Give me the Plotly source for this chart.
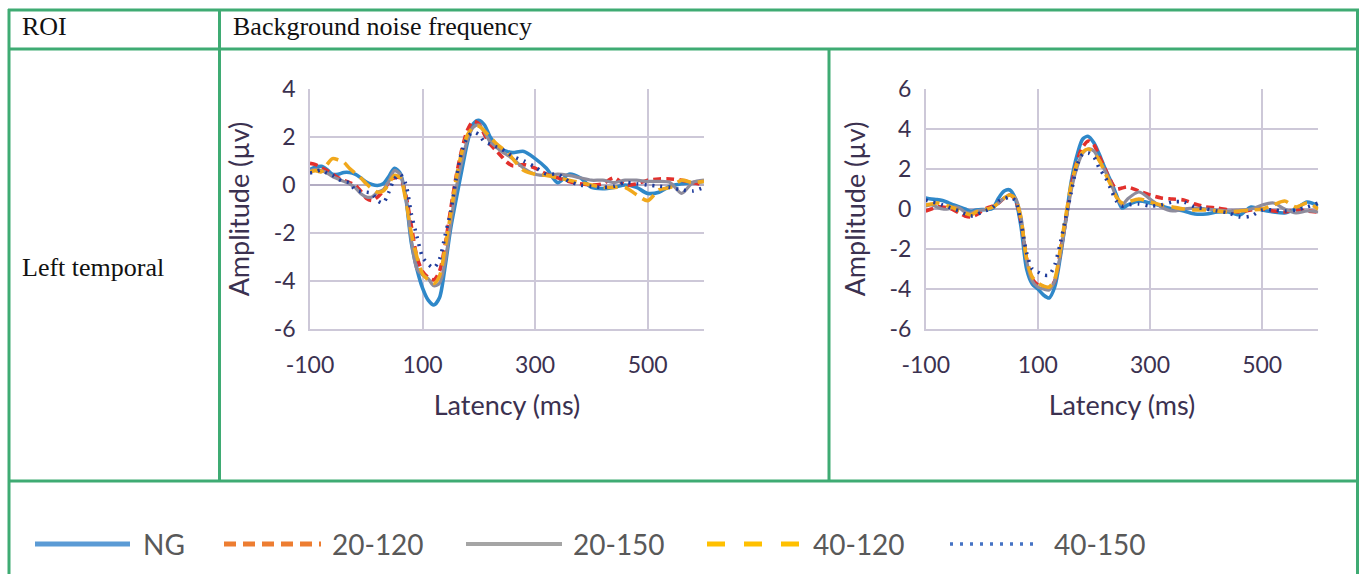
import plotly.graph_objects as go

W, H = 1360, 574

# ---------------- data ----------------
latency = list(range(-100, 261, 10)) + list(range(280, 601, 20))

series_names = ["NG", "20-120", "20-150", "40-120", "40-150"]

left_ng = [0.65, 0.75, 0.78, 0.65, 0.45, 0.45, 0.52, 0.52, 0.45, 0.3,
           0.12, 0.02, -0.02, 0.05, 0.35, 0.7, 0.5, -0.5, -2.4, -3.5,
           -4.3, -4.8, -5.0, -4.7, -3.4, -1.8, -0.55, 0.65, 1.8, 2.55,
           2.7, 2.5, 2.0, 1.7, 1.5, 1.4, 1.35,
           1.4, 1.1, 0.7, 0.1, 0.45, 0.3, -0.1, -0.15, -0.1, 0.0, -0.1, -0.35, -0.3, -0.05, 0.05, 0.1, 0.15]
left_20_120 = [0.9, 0.85, 0.72, 0.6, 0.45, 0.3, 0.2, 0.1, 0.0, -0.25,
               -0.55, -0.65, -0.5, -0.25, 0.1, 0.3, 0.3, -0.4, -1.7, -3.0,
               -3.6, -3.85, -3.95, -3.6, -2.5, -1.0, 0.4, 1.5, 2.3, 2.65,
               2.55, 2.1, 1.7, 1.45, 1.2, 0.95, 0.8,
               0.85, 0.7, 0.45, 0.3, 0.15, 0.05, 0.0, 0.05, 0.3, 0.0, 0.05, 0.2, 0.25, 0.25, 0.2, 0.1, 0.0]
left_20_150 = [0.6, 0.65, 0.6, 0.5, 0.35, 0.25, 0.15, 0.05, -0.1, -0.35,
               -0.5, -0.5, -0.3, -0.2, 0.15, 0.6, 0.45, -0.5, -2.3, -3.5,
               -3.75, -3.9, -4.2, -4.1, -3.2, -1.6, -0.1, 1.0, 1.9, 2.4,
               2.5, 2.2, 1.8, 1.6, 1.4, 1.25, 1.1,
               0.7, 0.45, 0.4, 0.45, 0.4, 0.3, 0.2, 0.2, 0.1, 0.2, 0.2, 0.15, 0.15, 0.1, -0.35, 0.1, 0.2]
left_40_120 = [0.55, 0.6, 0.55, 0.85, 1.1, 1.05, 0.95, 0.7, 0.5, 0.3,
               0.05, -0.15, -0.3, -0.25, 0.05, 0.4, 0.3, -0.6, -2.0, -3.0,
               -3.7, -3.95, -4.1, -3.8, -2.6, -1.2, 0.3, 1.4, 2.1, 2.4,
               2.45, 2.25, 2.0, 1.75, 1.55, 1.4, 1.1,
               0.6, 0.45, 0.4, 0.3, 0.2, 0.1, 0.0, -0.1, -0.1, -0.1, -0.4, -0.65, -0.2, -0.1, 0.2, 0.1, 0.15]
left_40_150 = [0.5, 0.55, 0.62, 0.5, 0.4, 0.25, 0.14, 0.1, -0.2, -0.28,
               -0.3, -0.35, -0.65, -0.75, -0.3, 0.25, 0.45, 0.05, -1.2, -2.15,
               -3.0, -3.3, -3.45, -3.1, -2.1, -1.1, 0.3, 1.4, 2.0, 2.2,
               2.1, 1.8, 1.7, 1.6, 1.5, 1.35, 1.2,
               1.0, 0.75, 0.45, 0.45, 0.15, 0.0, -0.05, -0.1, -0.05, 0.1, 0.05, 0.0, -0.05, -0.1, -0.2, -0.25, -0.1]

right_ng = [0.55, 0.5, 0.47, 0.42, 0.32, 0.2, 0.1, 0.0, -0.12, -0.05,
            -0.03, -0.03, 0.05, 0.55, 0.9, 0.95, 0.5, -0.9, -3.0, -3.75,
            -4.0, -4.3, -4.45, -3.9, -2.4, -0.5, 1.45, 2.7, 3.5, 3.63,
            3.3, 2.7, 2.0, 1.4, 0.7, 0.05, 0.2,
            0.4, 0.3, 0.15, 0.0, -0.1, -0.25, -0.25, -0.15, -0.15, -0.3, 0.1, -0.05, -0.15, -0.2, 0.0, 0.35, 0.15]
right_20_120 = [-0.1, 0.0, 0.1, 0.1, 0.05, -0.05, -0.2, -0.35, -0.4, -0.3,
                -0.1, 0.05, 0.15, 0.3, 0.55, 0.7, 0.45, -0.6, -2.5, -3.5,
                -3.8, -3.95, -4.0, -3.6, -2.2, -0.5, 1.2, 2.4, 3.1, 3.4,
                3.2, 2.6, 2.0, 1.4, 1.0, 1.05, 1.1,
                0.9, 0.7, 0.55, 0.5, 0.45, 0.25, 0.1, 0.05, -0.05, -0.15, -0.05, 0.0, -0.1, -0.15, -0.05, -0.1, -0.15]
right_20_150 = [0.15, 0.2, 0.1, 0.0, 0.0, 0.1, 0.05, -0.15, -0.2, -0.1,
                -0.05, 0.0, 0.1, 0.3, 0.55, 0.7, 0.55, -0.4, -2.6, -3.6,
                -3.9, -4.0, -4.05, -3.6, -2.3, -0.6, 1.0, 2.1, 2.8, 3.0,
                2.9, 2.4, 1.9, 1.3, 0.6, 0.2, 0.5,
                0.85, 0.5, 0.1, -0.1, 0.0, 0.05, 0.0, -0.05, -0.1, -0.05, 0.0, 0.2, 0.3, 0.0, -0.2, -0.1, -0.15]
right_40_120 = [0.2, 0.25, 0.3, 0.25, 0.15, 0.05, -0.1, -0.2, -0.3, -0.15,
                -0.05, 0.0, 0.1, 0.3, 0.55, 0.7, 0.5, -0.5, -2.5, -3.4,
                -3.7, -3.85, -3.9, -3.5, -2.0, -0.3, 1.3, 2.3, 2.85, 3.0,
                2.8, 2.4, 1.8, 1.2, 0.6, 0.3, 0.35,
                0.5, 0.35, 0.2, 0.1, 0.0, -0.05, -0.05, -0.1, -0.15, -0.1, -0.05, 0.0, 0.2, 0.4, 0.1, 0.3, 0.0]
right_40_150 = [0.45, 0.35, 0.3, 0.2, 0.1, 0.0, -0.1, -0.25, -0.35, -0.3,
                -0.15, -0.05, 0.1, 0.4, 0.5, 0.6, 0.4, -0.7, -2.2, -3.0,
                -3.15, -3.3, -3.3, -2.8, -1.7, -0.4, 0.9, 2.2, 2.75, 2.8,
                2.6, 2.0, 1.6, 1.0, 0.4, 0.15, 0.2,
                0.25, 0.15, 0.2, 0.35, 0.35, 0.1, 0.0, -0.1, -0.2, -0.4, -0.35, -0.05, -0.05, -0.1, -0.05, 0.1, 0.3]

x_ticks = [-100, 100, 300, 500]
x_tick_labels = ["-100", "100", "300", "500"]
left_y_ticks = [4, 2, 0, -2, -4, -6]
left_y_labels = ["4", "2", "0", "-2", "-4", "-6"]
right_y_ticks = [6, 4, 2, 0, -2, -4, -6]
right_y_labels = ["6", "4", "2", "0", "-2", "-4", "-6"]

header_roi = "ROI"
header_bg = "Background noise frequency"
row_label = "Left temporal"
x_title = "Latency (ms)"
y_title = "Amplitude (µv)"

# ---------------- styles ----------------
curve_styles = {
    "NG": dict(color="#2f88c9", width=3.6, dash="solid"),
    "20-120": dict(color="#e2302c", width=3.6, dash="8px,5px"),
    "20-150": dict(color="#8e8c9c", width=3.2, dash="solid"),
    "40-120": dict(color="#f1a81c", width=3.6, dash="14px,7px"),
    "40-150": dict(color="#1f3c9c", width=3.6, dash="2px,6px"),
}
legend_styles = {
    "NG": dict(color="#5b9bd5", width=5, dash="solid"),
    "20-120": dict(color="#ed7d31", width=5, dash="12px,7px"),
    "20-150": dict(color="#a5a5a5", width=4, dash="solid"),
    "40-120": dict(color="#ffc000", width=5, dash="18px,19px"),
    "40-150": dict(color="#4472c4", width=3.5, dash="3px,7px"),
}

GREEN = "#3fab73"
AXIS_TXT = "#3b3150"
GRID = "#cdc8d8"
FONT = "Lato"
SERIF = "Liberation Serif"


def px_x(p):
    return p / W


def px_y(p):
    return 1 - p / H


fig = go.Figure()

left_data = [left_ng, left_20_120, left_20_150, left_40_120, left_40_150]
right_data = [right_ng, right_20_120, right_20_150, right_40_120, right_40_150]

for name, ys in zip(series_names, left_data):
    fig.add_trace(go.Scatter(x=latency, y=ys, mode="lines", name=name,
                             line=dict(shape="spline", smoothing=0.8, **curve_styles[name]),
                             showlegend=False, xaxis="x", yaxis="y"))
for name, ys in zip(series_names, right_data):
    fig.add_trace(go.Scatter(x=latency, y=ys, mode="lines", name=name,
                             line=dict(shape="spline", smoothing=0.8, **curve_styles[name]),
                             showlegend=False, xaxis="x2", yaxis="y2"))


def xaxis_style(domain, anchor):
    return dict(domain=domain, anchor=anchor, range=[-100, 600],
                tickvals=x_ticks, ticktext=x_tick_labels, automargin=False,
                showgrid=True, gridcolor=GRID, gridwidth=1.5, zeroline=False,
                showline=True, linecolor=GRID, linewidth=1.5,
                tickfont=dict(family=FONT, size=23, color=AXIS_TXT),
                ticklabelstandoff=15,
                title=dict(text=x_title, font=dict(family=FONT, size=27, color=AXIS_TXT), standoff=19),
                fixedrange=True)


def yaxis_style(domain, anchor, rng, ticks, labels):
    return dict(domain=domain, anchor=anchor, range=rng,
                tickvals=ticks, ticktext=labels, automargin=False,
                showgrid=True, gridcolor=GRID, gridwidth=1.5,
                zeroline=True, zerolinecolor="#b3adc3", zerolinewidth=1.5,
                showline=True, linecolor=GRID, linewidth=1.5,
                tickfont=dict(family=FONT, size=23, color=AXIS_TXT),
                ticklabelstandoff=8,
                title=dict(text=y_title, font=dict(family=FONT, size=27, color=AXIS_TXT), standoff=16),
                fixedrange=True)


ydom = [px_y(329), px_y(89)]
fig.update_layout(
    width=W, height=H, margin=dict(l=0, r=0, t=0, b=0, autoexpand=False),
    paper_bgcolor="white", plot_bgcolor="white", showlegend=False,
    xaxis=xaxis_style([px_x(310), px_x(704)], "y"),
    yaxis=yaxis_style(ydom, "x", [-6, 4], left_y_ticks, left_y_labels),
    xaxis2=xaxis_style([px_x(925.7), px_x(1318.3)], "y2"),
    yaxis2=yaxis_style(ydom, "x2", [-6, 6], right_y_ticks, right_y_labels),
)

# ---------------- table frame ----------------
shapes = []


def hline(y, x0, x1):
    shapes.append(dict(type="line", xref="paper", yref="paper", x0=px_x(x0), x1=px_x(x1),
                       y0=px_y(y), y1=px_y(y), line=dict(color=GREEN, width=3)))


def vline(x, y0, y1):
    shapes.append(dict(type="line", xref="paper", yref="paper", x0=px_x(x), x1=px_x(x),
                       y0=px_y(y0), y1=px_y(y1), line=dict(color=GREEN, width=3)))


hline(10, 8, 1359)
hline(49, 8, 1359)
hline(481, 8, 1359)
vline(9, 9, 574)
vline(1357.5, 9, 574)
vline(219.5, 9, 481)
vline(829, 49, 481)

annotations = [
    dict(text=header_roi, x=px_x(20), y=px_y(27), xref="paper", yref="paper", xanchor="left",
         yanchor="middle", showarrow=False, font=dict(family=SERIF, size=26, color="#111111")),
    dict(text=header_bg, x=px_x(231), y=px_y(27), xref="paper", yref="paper", xanchor="left",
         yanchor="middle", showarrow=False, font=dict(family=SERIF, size=26, color="#111111")),
    dict(text=row_label, x=px_x(20), y=px_y(268), xref="paper", yref="paper", xanchor="left",
         yanchor="middle", showarrow=False, font=dict(family=SERIF, size=26, color="#111111")),
]

# ---------------- legend (in the bottom table row) ----------------
legend_pos = [(35, 130, 141), (224, 321, 330), (466, 562, 571), (707, 800, 811), (950, 1037, 1052)]
for name, (lx0, lx1, tx) in zip(series_names, legend_pos):
    st = legend_styles[name]
    shapes.append(dict(type="line", xref="paper", yref="paper", x0=px_x(lx0), x1=px_x(lx1),
                       y0=px_y(544), y1=px_y(544),
                       line=dict(color=st["color"], width=st["width"], dash=st["dash"])))
    annotations.append(dict(text=name, x=px_x(tx), y=px_y(544), xref="paper", yref="paper",
                            xanchor="left", yanchor="middle", showarrow=False,
                            font=dict(family=FONT, size=28, color="#595959")))

fig.update_layout(shapes=shapes, annotations=annotations)

fig.write_html("out.html", config={"displayModeBar": False},
               post_script="document.body.style.margin='0';document.body.style.overflow='hidden';")
